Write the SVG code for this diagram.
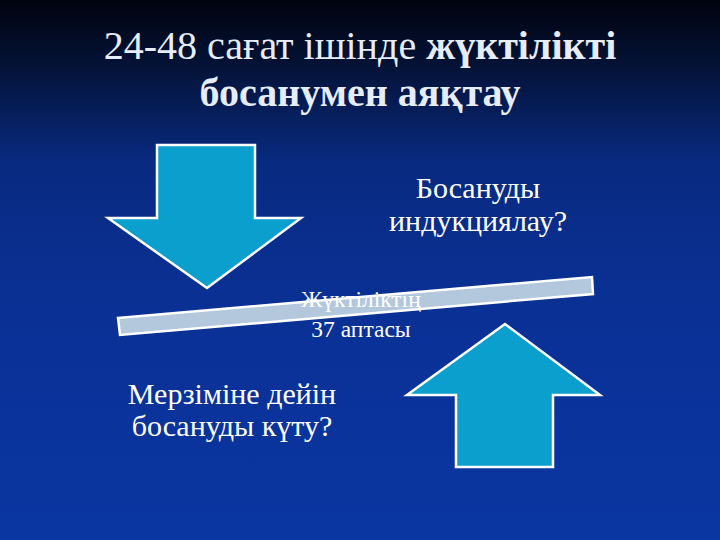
<svg xmlns="http://www.w3.org/2000/svg" width="720" height="540" viewBox="0 0 720 540">
<defs>
<linearGradient id="bg" x1="0" y1="0" x2="0" y2="1">
<stop offset="0" stop-color="#01040f"/>
<stop offset="0.12" stop-color="#041236"/>
<stop offset="0.3" stop-color="#082a80"/>
<stop offset="0.55" stop-color="#0a3094"/>
<stop offset="1" stop-color="#0a36a2"/>
</linearGradient>
</defs>
<style>
.arrow{fill:#0a9fcc;stroke:#ffffff;stroke-width:2.5;stroke-linejoin:miter}
.bar{fill:#b3c7dd;stroke:#ffffff;stroke-width:2.5}
.t{font-family:'Liberation Serif','DejaVu Serif',serif;fill:#ffffff;text-anchor:middle}
.title{font-size:40px;fill:#e6ecf8}
.lbl{font-size:30px}
.sm{font-size:23.5px}
</style>
<rect width="720" height="540" fill="url(#bg)"/>
<g id="title">
<text class="t title" x="360" y="59">24-48 сағат ішінде <tspan font-weight="bold">жүктілікті</tspan></text>
<text class="t title" x="360" y="106" font-weight="bold">босанумен аяқтау</text>
</g>
<g id="arrow-down">
<polygon class="arrow" points="157,145 255,145 255,218 301,218 207,288 108,218 157,218"/>
</g>
<g id="arrow-up">
<polygon class="arrow" points="505,324 600,395 553,395 553,467 456,467 456,395 407,395"/>
</g>
<g id="bar">
<polygon class="bar" points="118,318 592,277 593,294 120,335"/>
</g>
<g id="label-induction">
<text class="t lbl" x="478" y="198">Босануды</text>
<text class="t lbl" x="478" y="231">индукциялау?</text>
</g>
<g id="label-wait">
<text class="t lbl" x="232" y="404">Мерзіміне дейін</text>
<text class="t lbl" x="232" y="436">босануды күту?</text>
</g>
<g id="label-week">
<text class="t sm" x="361" y="307">Жүктіліктің</text>
<text class="t sm" x="361" y="337">37 аптасы</text>
</g>
<g id="connectors"></g>
</svg>
